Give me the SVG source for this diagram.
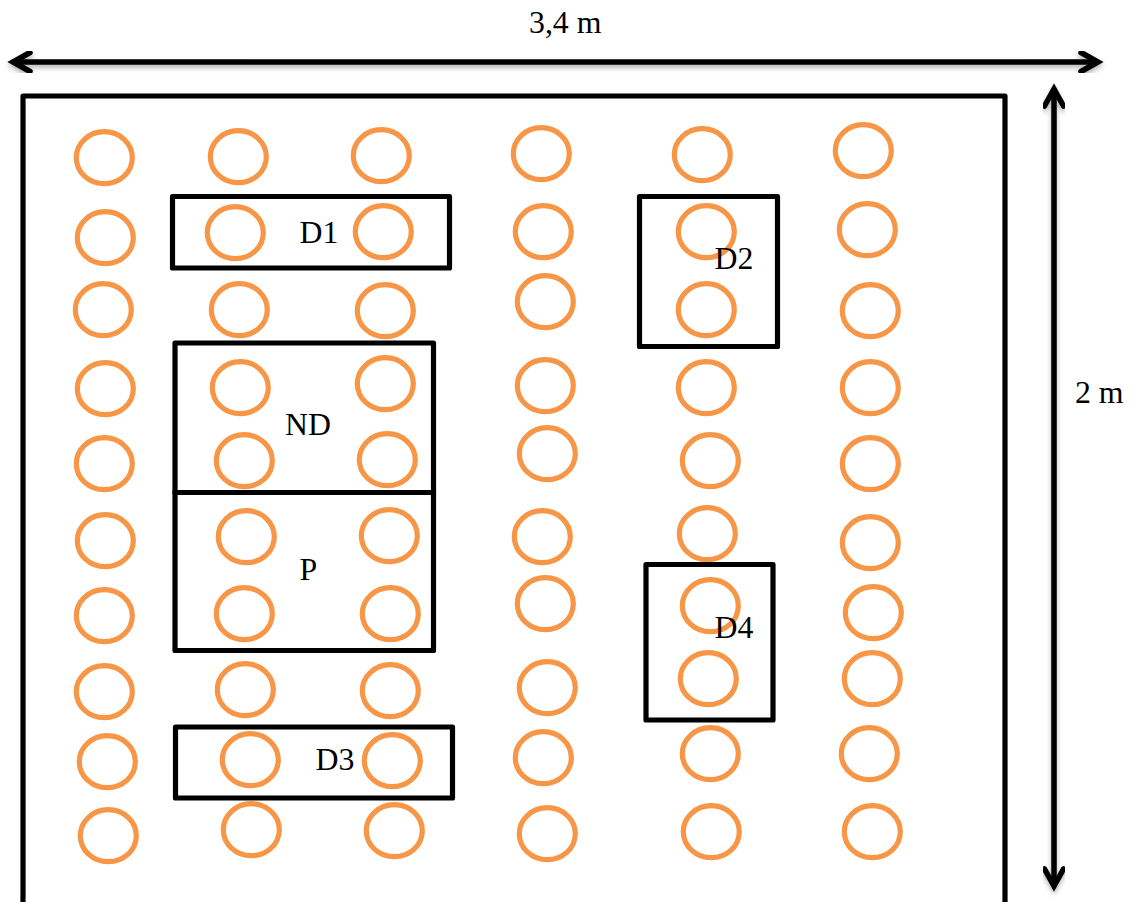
<svg xmlns="http://www.w3.org/2000/svg" width="1135" height="902" viewBox="0 0 1135 902">
<style>
.c{fill:none;stroke:#F79646;stroke-width:5.2}
.b{fill:none;stroke:#000;stroke-width:5.200;stroke-linejoin:round}
.a{fill:none;stroke:#000;stroke-width:5.5;stroke-linecap:round;stroke-linejoin:miter}
text{font-family:"Liberation Serif","Times New Roman",serif;font-size:31.8px;fill:#000}
</style>
<defs>
<filter id="s" x="-5%" y="-5%" width="110%" height="110%" color-interpolation-filters="sRGB">
<feDropShadow dx="0" dy="3" stdDeviation="2.5" flood-color="#000" flood-opacity="0.3"/>
</filter>
<ellipse id="o" rx="28" ry="26"/>
</defs>
<rect width="1135" height="902" fill="#fff"/>
<g id="plot"><rect class="b" x="23" y="96" width="982" height="812"/></g>
<g id="connectors">
<g filter="url(#s)">
<path class="a" d="M14 62H1096"/>
<path class="a" d="M30 52.500L13 62L30 71.500"/>
<path class="a" d="M1081 52.500L1098 62L1081 71.500"/>
</g>
<g filter="url(#s)">
<path class="a" d="M1054 92V884"/>
<path class="a" d="M1044.500 106L1054 89L1063.500 106"/>
<path class="a" d="M1044.500 869L1054 886L1063.500 869"/>
</g>
</g>
<g id="circles" transform="translate(0.3,0.7)">
<use href="#o" class="c" x="104" y="157"/><use href="#o" class="c" x="105" y="237"/><use href="#o" class="c" x="103" y="309"/><use href="#o" class="c" x="105" y="388"/><use href="#o" class="c" x="104" y="463"/><use href="#o" class="c" x="105" y="540"/><use href="#o" class="c" x="104" y="615"/><use href="#o" class="c" x="104" y="691"/><use href="#o" class="c" x="107" y="761"/><use href="#o" class="c" x="108" y="835"/>
<use href="#o" class="c" x="238" y="156"/><use href="#o" class="c" x="235" y="232"/><use href="#o" class="c" x="239" y="309"/><use href="#o" class="c" x="240" y="387"/><use href="#o" class="c" x="244" y="460"/><use href="#o" class="c" x="246" y="536"/><use href="#o" class="c" x="244" y="613"/><use href="#o" class="c" x="245" y="689"/><use href="#o" class="c" x="250" y="759"/><use href="#o" class="c" x="251" y="829"/>
<use href="#o" class="c" x="381" y="155"/><use href="#o" class="c" x="383" y="231"/><use href="#o" class="c" x="385" y="310"/><use href="#o" class="c" x="385" y="383"/><use href="#o" class="c" x="387" y="459"/><use href="#o" class="c" x="389" y="535"/><use href="#o" class="c" x="390" y="613"/><use href="#o" class="c" x="390" y="690"/><use href="#o" class="c" x="392" y="760"/><use href="#o" class="c" x="394" y="830"/>
<use href="#o" class="c" x="541" y="153"/><use href="#o" class="c" x="543" y="231"/><use href="#o" class="c" x="545" y="301"/><use href="#o" class="c" x="545" y="385"/><use href="#o" class="c" x="547" y="453"/><use href="#o" class="c" x="542" y="536"/><use href="#o" class="c" x="545" y="603"/><use href="#o" class="c" x="547" y="687"/><use href="#o" class="c" x="543" y="757"/><use href="#o" class="c" x="547" y="833"/>
<use href="#o" class="c" x="702" y="154"/><use href="#o" class="c" x="706" y="231"/><use href="#o" class="c" x="706" y="309"/><use href="#o" class="c" x="706" y="387"/><use href="#o" class="c" x="710" y="460"/><use href="#o" class="c" x="707" y="533"/><use href="#o" class="c" x="710" y="605"/><use href="#o" class="c" x="708" y="678"/><use href="#o" class="c" x="710" y="753"/><use href="#o" class="c" x="711" y="831"/>
<use href="#o" class="c" x="863" y="150"/><use href="#o" class="c" x="867" y="229"/><use href="#o" class="c" x="870" y="310"/><use href="#o" class="c" x="870" y="387"/><use href="#o" class="c" x="870" y="463"/><use href="#o" class="c" x="870" y="542"/><use href="#o" class="c" x="873" y="612"/><use href="#o" class="c" x="872" y="678"/><use href="#o" class="c" x="869" y="753"/><use href="#o" class="c" x="872" y="831"/>
</g>
<g id="D1"><rect class="b" x="172.500" y="196.500" width="277" height="71.500"/><text x="299.500" y="243">D1</text></g>
<g id="D2"><rect class="b" x="639.500" y="196.500" width="138" height="150"/><text x="714.500" y="269">D2</text></g>
<g id="ND"><rect class="b" x="175" y="343" width="258.500" height="149.500"/><text x="285" y="435">ND</text></g>
<g id="P"><rect class="b" x="175" y="492.500" width="258.500" height="158"/><text x="299.500" y="580">P</text></g>
<g id="D3"><rect class="b" x="175.500" y="727" width="277" height="71"/><text x="315.500" y="770">D3</text></g>
<g id="D4"><rect class="b" x="646" y="564.500" width="127" height="155.500"/><text x="714.500" y="638">D4</text></g>
<g id="dims"><text x="529" y="33">3,4 m</text><text x="1075" y="403">2 m</text></g>
</svg>
